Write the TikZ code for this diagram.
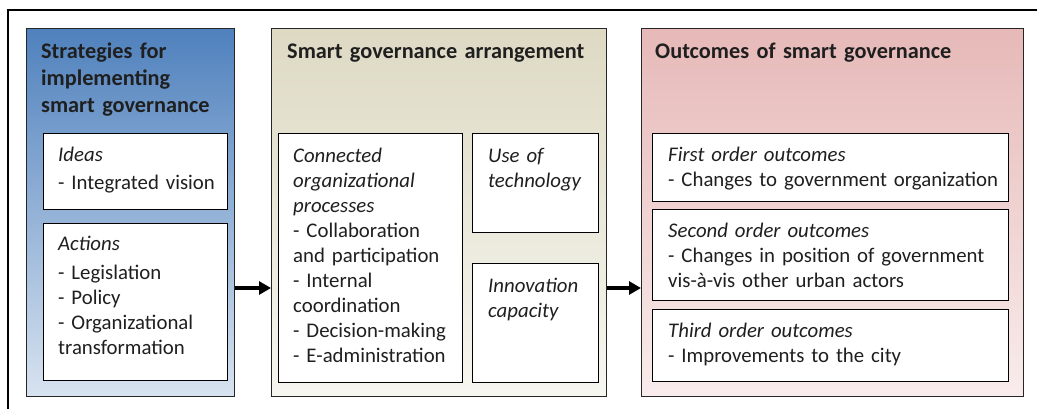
\documentclass[tikz,border=0pt]{standalone}
\usepackage{fontspec}
\setmainfont{Carlito}
\usetikzlibrary{arrows.meta, calc}

\definecolor{stratTop}{RGB}{79,129,189}
\definecolor{stratBot}{RGB}{216,227,240}
\definecolor{arrTop}{RGB}{221,217,195}
\definecolor{arrBot}{RGB}{247,247,241}
\definecolor{outTop}{RGB}{230,185,184}
\definecolor{outBot}{RGB}{249,236,236}

\begin{document}
\begin{tikzpicture}[
    x=1pt, y=-1pt,
    panel/.style={rectangle, draw=black!85, line width=1.3pt, anchor=north west,
        minimum height=368pt, inner sep=0pt},
    inbox/.style={rectangle, draw=black, line width=1.3pt, fill=white, anchor=north west,
        inner sep=0pt},
    title/.style={anchor=base west, inner sep=0pt, text width=330pt, align=left,
        text=black!88, font=\fontsize{22.3}{27}\selectfont\bfseries},
    txt/.style={anchor=base west, inner sep=0pt, text width=330pt, align=left,
        text=black!88, font=\fontsize{20.8}{25}\selectfont},
    flow/.style={line width=3.4pt, -{Triangle[length=12pt, width=13pt]}},
]

\clip[use as bounding box] (0,0) rectangle (1037,408);

% outer frame
\draw[line width=2.8pt] (1045,10) -- (8,10) -- (8,420);

% the three panels
\node[panel, minimum width=208pt, top color=stratTop, bottom color=stratBot] (strat) at (26,28) {};
\node[panel, minimum width=335pt, top color=arrTop, bottom color=arrBot] (arr) at (271,28) {};
\node[panel, minimum width=382pt, top color=outTop, bottom color=outBot] (out) at (641,28) {};

\node[title] (stratT) at (41,58) {Strategies for\\implementing\\smart governance};
\node[title] (arrT) at (287,58) {Smart governance arrangement};
\node[title] (outT) at (655,58) {Outcomes of smart governance};

% strategies
\node[inbox, minimum width=184pt, minimum height=76pt] (ideas) at (43,133) {};
\node[inbox, minimum width=184pt, minimum height=157pt] (actions) at (43,223) {};
\node[txt] at ($(ideas.north west)+(15,28)$) {\textit{Ideas}\\[3pt]- Integrated vision};
\node[txt] at ($(actions.north west)+(15,27)$) {\textit{Actions}\\[4pt]- Legislation\\- Policy\\- Organizational\\transformation};

% arrangement
\node[inbox, minimum width=184pt, minimum height=249pt] (procs) at (278,133) {};
\node[inbox, minimum width=126pt, minimum height=99pt] (tech) at (472,133) {};
\node[inbox, minimum width=126pt, minimum height=119pt] (innov) at (472,263) {};
\node[txt] at ($(procs.north west)+(15,29)$) {\textit{Connected}\\\textit{organizational}\\\textit{processes}\\- Collaboration\\and participation\\- Internal\\coordination\\- Decision-making\\- E-administration};
\node[txt] at ($(tech.north west)+(16,29)$) {\textit{Use of}\\\textit{technology}};
\node[txt] at ($(innov.north west)+(16,29)$) {\textit{Innovation}\\\textit{capacity}};

% outcomes
\node[inbox, minimum width=356pt, minimum height=68pt] (first) at (652,133) {};
\node[inbox, minimum width=356pt, minimum height=91pt] (second) at (652,209) {};
\node[inbox, minimum width=356pt, minimum height=72pt] (third) at (652,309) {};
\node[txt] at ($(first.north west)+(16,28)$) {\textit{First order outcomes}\\- Changes to government organization};
\node[txt] at ($(second.north west)+(16,28)$) {\textit{Second order outcomes}\\- Changes in position of government\\vis-à-vis other urban actors};
\node[txt] at ($(third.north west)+(16,28)$) {\textit{Third order outcomes}\\- Improvements to the city};

% arrows between the panels
\coordinate (lvl) at (0,288);
\draw[flow] (strat.east |- lvl) -- (arr.west |- lvl);
\draw[flow] (arr.east |- lvl) -- (out.west |- lvl);

\end{tikzpicture}
\end{document}
